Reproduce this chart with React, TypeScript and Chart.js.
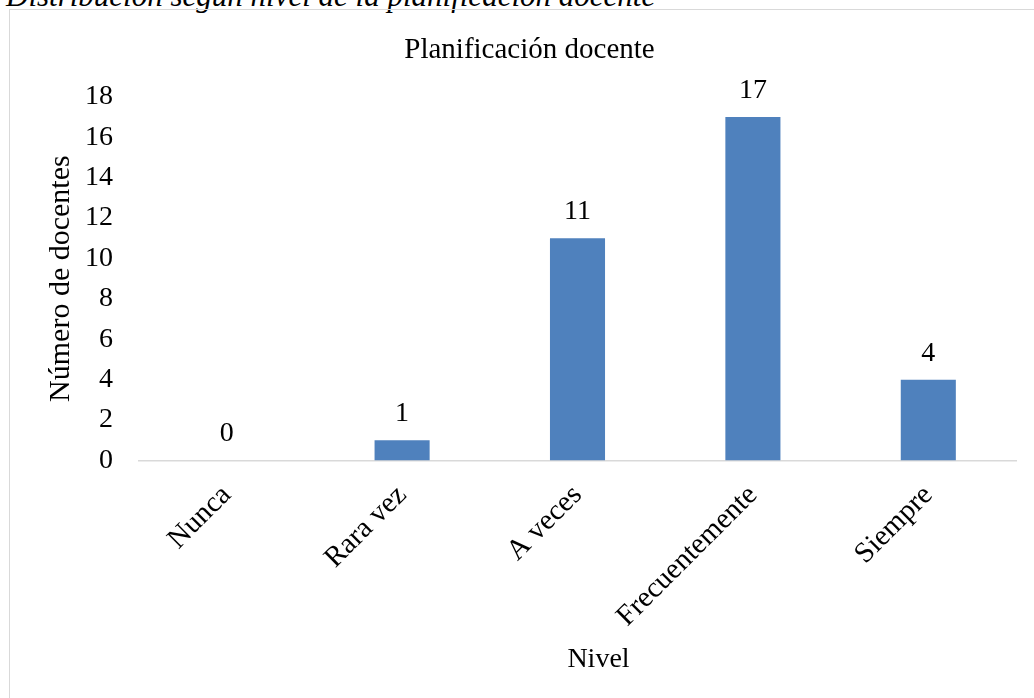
import React, { useEffect, useRef } from "react";
import { Chart, registerables } from "chart.js";

Chart.register(...registerables);

const categories = ["Nunca", "Rara vez", "A veces", "Frecuentemente", "Siempre"];
const values = [0, 1, 11, 17, 4];
const chartTitle = "Planificación docente";
const yTitle = "Número de docentes";
const xTitle = "Nivel";
const caption = "Distribución según nivel de la planificación docente";

const FONT = "'Liberation Serif', 'Times New Roman', serif";
const BAR = "#4f81bd";

const valueLabels = {
  id: "valueLabels",
  afterDatasetsDraw(chart: any) {
    const ctx = chart.ctx;
    const meta = chart.getDatasetMeta(0);
    ctx.save();
    ctx.font = `28px ${FONT}`;
    ctx.fillStyle = "#000";
    ctx.textAlign = "center";
    ctx.textBaseline = "alphabetic";
    meta.data.forEach((el: any, i: number) => {
      ctx.fillText(String(values[i]), el.x, el.y - 19);
    });
    // x-axis title
    const area = chart.chartArea;
    ctx.font = `28px ${FONT}`;
    ctx.textBaseline = "middle";
    ctx.fillText(xTitle, (area.left + area.right) / 2 + 21, chart.height - 38);
    ctx.restore();
  },
};

export default function App() {
  const ref = useRef<HTMLCanvasElement | null>(null);
  useEffect(() => {
    if (!ref.current) return;
    const chart = new Chart(ref.current, {
      type: "bar",
      data: {
        labels: categories,
        datasets: [
          {
            data: values,
            backgroundColor: BAR,
            borderWidth: 0,
            barPercentage: 0.314,
            categoryPercentage: 1,
          },
        ],
      },
      options: {
        animation: false,
        responsive: false,
        maintainAspectRatio: false,
        layout: { padding: { top: 23, right: 18, left: 33, bottom: 46 } },
        plugins: {
          legend: { display: false },
          tooltip: { enabled: false },
          title: {
            display: true,
            text: chartTitle,
            color: "#000",
            font: { family: FONT, size: 29, weight: "normal" },
            padding: { top: 0, bottom: 29 },
          },
        },
        scales: {
          y: {
            min: 0,
            max: 18,
            ticks: {
              stepSize: 2,
              color: "#000",
              font: { family: FONT, size: 28 },
              padding: 26,
            },
            grid: { display: false, drawTicks: false },
            border: { display: false },
            title: {
              display: true,
              text: yTitle,
              color: "#000",
              font: { family: FONT, size: 30 },
              padding: { top: 0, bottom: -20 },
            },
          },
          x: {
            ticks: {
              color: "#000",
              font: { family: FONT, size: 29 },
              maxRotation: 45,
              minRotation: 45,
              padding: 18,
              autoSkip: false,
            },
            grid: { display: false, drawTicks: false },
            border: { display: true, color: "#d9d9d9", width: 1.5 },
          },
        },
      },
      plugins: [valueLabels],
    });
    return () => chart.destroy();
  }, []);

  return (
    <div
      style={{
        position: "fixed",
        left: 0,
        top: 0,
        width: 1034,
        height: 698,
        overflow: "hidden",
        background: "#fff",
      }}
    >
      <div
        style={{
          position: "absolute",
          left: 6,
          top: -20,
          fontFamily: FONT,
          fontStyle: "italic",
          fontSize: 31,
          lineHeight: "31px",
          whiteSpace: "nowrap",
          color: "#000",
        }}
      >
        {caption}
      </div>
      <div
        style={{
          position: "absolute",
          left: 9,
          top: 9,
          width: 1100,
          height: 800,
          border: "1px solid #d9d9d9",
          boxSizing: "border-box",
        }}
      />
      <canvas
        ref={ref}
        width={1024}
        height={688}
        style={{ position: "absolute", left: 10, top: 10, width: 1024, height: 688 }}
      />
    </div>
  );
}
